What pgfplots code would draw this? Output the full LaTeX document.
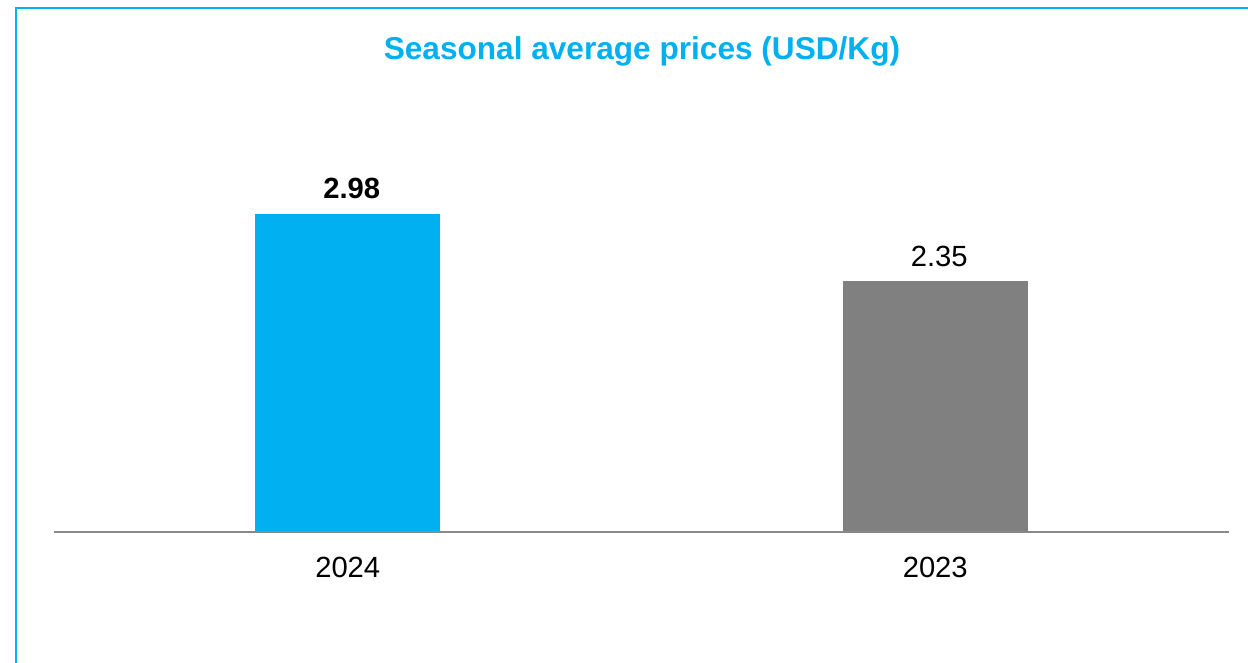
\documentclass[border=0pt]{standalone}
\usepackage{fontspec}
\setmainfont{Liberation Sans}
\usepackage{pgfplots}
\pgfplotsset{compat=1.18}
\definecolor{brandcyan}{HTML}{00B0F0}
\definecolor{bargray}{HTML}{808080}
\definecolor{axisgray}{HTML}{898989}
\begin{document}
\begin{tikzpicture}
% page is 624pt x 331.5pt (1px = 0.5pt)
\path[use as bounding box] (0,0) rectangle (624pt,331.5pt);
\draw[brandcyan, line width=1pt] (8pt,-2pt) -- (8pt,327.5pt) -- (630pt,327.5pt);
\node[font=\fontsize{15.8}{18}\selectfont\bfseries, text=brandcyan] at (321pt,306pt)
  {Seasonal average prices (USD/Kg)};
\begin{axis}[
    at={(27pt,65.5pt)}, anchor=south west,
    scale only axis,
    width=587.5pt, height=186.6pt,
    xmin=-0.5, xmax=1.5,
    ymin=0, ymax=3.5,
    axis lines=none,
    ybar, bar width=92.5pt, bar shift=0pt,
    xtick={0,1}, xticklabels={},
    ytick=\empty,
    nodes near coords,
    point meta=y,
    /pgf/number format/assume math mode=true,
    /pgf/number format/fixed,
    /pgf/number format/precision=2,
    /pgf/number format/fixed zerofill,
    clip=false,
]
%% 2024
\addplot[fill=brandcyan, draw=none,
    nodes near coords style={font=\fontsize{14.6}{17}\selectfont\bfseries, text=black, yshift=4pt, xshift=2pt}]
    coordinates {(0,2.98)};
%% 2023
\addplot[fill=bargray, draw=none,
    nodes near coords style={font=\fontsize{14.6}{17}\selectfont, text=black, yshift=4pt, xshift=2pt}]
    coordinates {(1,2.35)};
%% baseline
\draw[axisgray, line width=1pt] (axis cs:-0.5,0) -- (axis cs:1.5,0);
%% category labels
\node[font=\fontsize{14.6}{17}\selectfont] at ([yshift=-17.5pt]axis cs:0,0) {2024};
\node[font=\fontsize{14.6}{17}\selectfont] at ([yshift=-17.5pt]axis cs:1,0) {2023};
\end{axis}
\end{tikzpicture}
\end{document}
